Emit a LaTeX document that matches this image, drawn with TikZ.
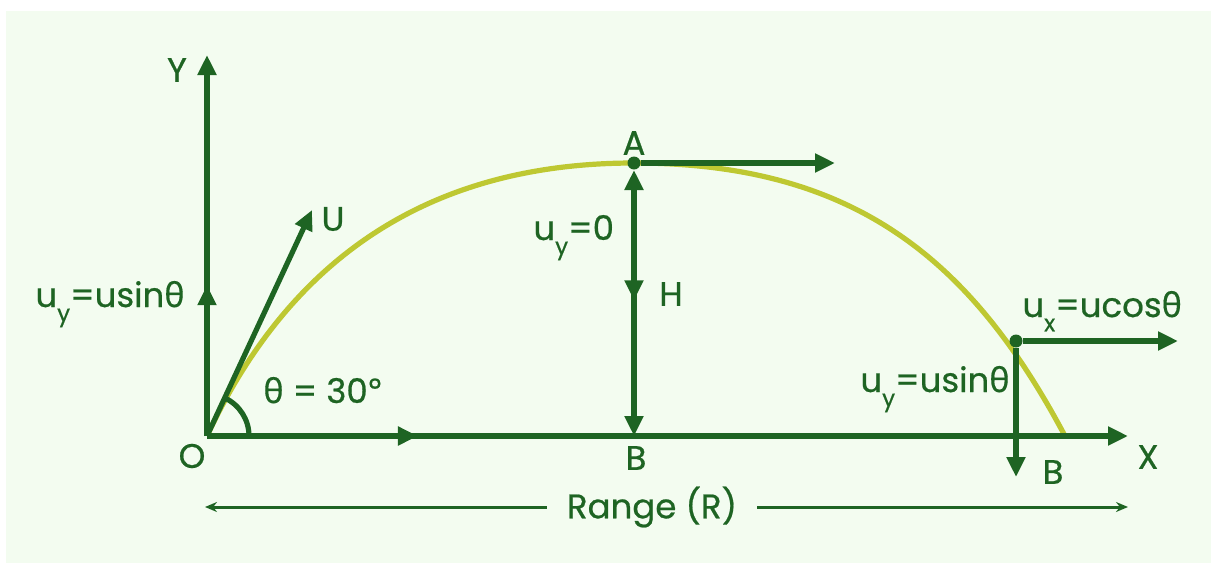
\documentclass[tikz,border=0pt]{standalone}
\usepackage{fontspec}
\setmainfont{Poppins}[FakeBold=0.6]
\newfontfamily\gr{Noto Sans}[FakeBold=0.3]
\usetikzlibrary{arrows.meta,decorations.markings}
\definecolor{dg}{HTML}{1E6423}
\definecolor{yg}{HTML}{BEC832}
\definecolor{bgc}{HTML}{F3FCF0}
\newcommand{\thet}{{\gr θ}}
\newcommand{\sbs}[1]{\raisebox{-0.42em}{\fontsize{11.5}{11.5}\selectfont #1}}
\begin{document}
\begin{tikzpicture}[x=0.5pt,y=-0.5pt,
  ln/.style={draw=dg, line width=2.6pt},
  tri/.style={-{Triangle[length=10pt,width=9pt]}},
  midarr/.style={postaction={decorate}, decoration={markings, mark=at position #1 with {\arrow{Triangle[length=10pt,width=9pt]}}}},
  lbl/.style={text=dg, font=\fontsize{17}{20}\selectfont, inner sep=0pt},
  rng/.style={draw=dg, line width=1.5pt, -{Stealth[length=6pt,width=5pt]}},
  dot/.style={circle, fill=dg, inner sep=0pt, minimum size=6.5pt}]
\useasboundingbox (0,0) rectangle (1211,563);
\fill[white] (0,0) rectangle (1211,563);
\fill[bgc] (6,11) rectangle (1211,563);
% coordinates
\coordinate (O) at (207,436);
\coordinate (Xend) at (1128,436);
\coordinate (Yend) at (207,55);
\coordinate (Utip) at (312,210);
\coordinate (B) at (634,436);
\coordinate (A1) at (634,170);
\coordinate (E) at (1065,436);
\coordinate (Atip) at (835,163);
\coordinate (Ptip) at (1178,341);
\coordinate (Pdown) at (1016,477);
\coordinate (rl) at (205,507);
\coordinate (rr) at (1128,507);
% trajectory
\draw[yg, line width=2.6pt] (O) .. controls (283,273) and (414,163) .. (634,163)
  .. controls (854,163) and (971,259) .. (E);
% axes
\draw[ln, tri, midarr=0.229] (O) -- (Xend);
\draw[ln, tri, midarr=0.396] (O) -- (Yend);
\draw[ln, tri] (O) -- (Utip);
\draw[ln] ([shift={(42,0)}]O) arc[start angle=0, end angle=-65, radius=42];
% points
\node[dot] (A) at (634,163) {};
\node[dot] (P) at (1016,341) {};
\draw[ln, {Triangle[length=10pt,width=9pt]}-{Triangle[length=10pt,width=9pt]}, midarr=0.49] (A1) -- (B);
\draw[ln, tri] (A) -- (Atip);
\draw[ln, tri] (P) -- (Ptip);
\draw[ln, tri] (P) -- (Pdown);
% labels
\node[lbl] (lY) at (177,70) {Y};
\node[lbl] (lO) at (192,456) {O};
\node[lbl] (lX) at (1148,457) {X};
\node[lbl] (lU) at (333,219) {U};
\node[lbl] (lA) at (634,143) {A};
\node[lbl] (lB) at (636,458) {B};
\node[lbl] (lH) at (671,294) {H};
\node[lbl] (lB2) at (1053,472) {B};
\node[lbl, anchor=base west] (lth) at (263,403) {\thet{} = 30{\gr °}};
\node[lbl, anchor=base west] (luy0) at (533,240) {u\sbs{y}=0};
\node[lbl, anchor=base west] (luyl) at (35,307) {u\sbs{y}=usin\thet};
\node[lbl, anchor=base west] (luyr) at (860,392) {u\sbs{y}=usin\thet};
\node[lbl, anchor=base west] (lux) at (1022,317) {u\sbs{x}=ucos\thet};
\node[lbl, inner xsep=10pt] (range) at (652,507) {Range (R)};
\draw[rng] (range) -- (rl);
\draw[rng] (range) -- (rr);
\end{tikzpicture}
\end{document}
